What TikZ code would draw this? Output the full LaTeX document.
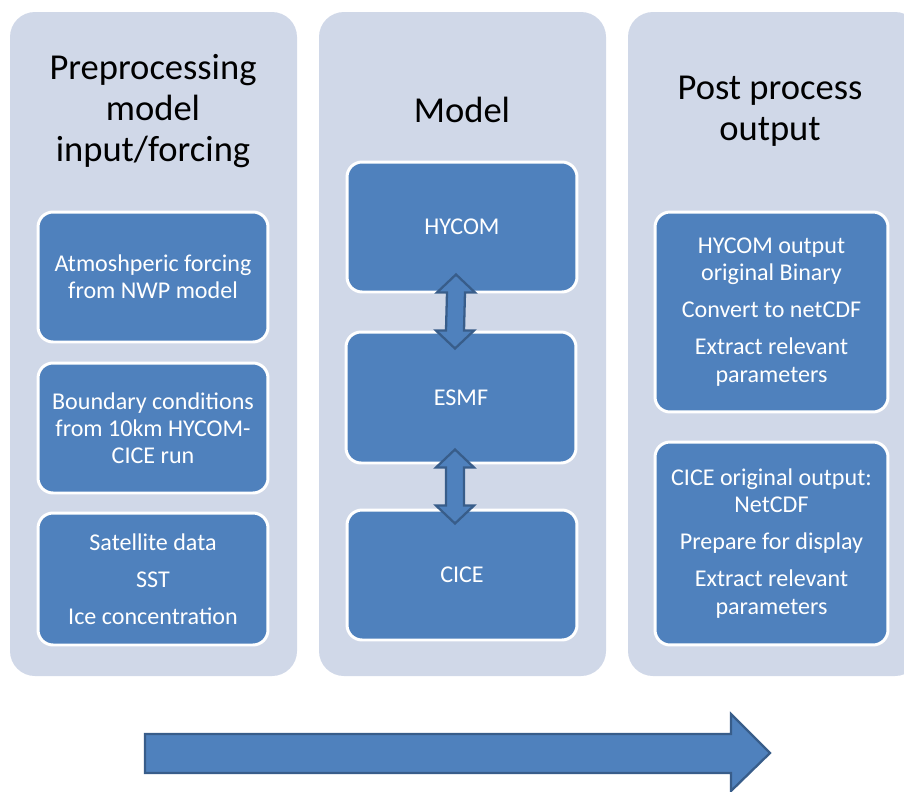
\documentclass[tikz,border=0pt]{standalone}
\usepackage{fontspec}
\setmainfont{Carlito}
\usetikzlibrary{calc}
\definecolor{panelbg}{HTML}{D0D8E8}
\definecolor{boxblue}{HTML}{4F81BD}
\definecolor{arrowedge}{HTML}{385D8A}
\newcommand\bxfont{\fontsize{13.7pt}{15.4pt}\selectfont}
\newcommand\ttlfont{\fontsize{20.8pt}{23.3pt}\selectfont}
\begin{document}
\begin{tikzpicture}[x=0.02cm,y=-0.02cm,
  panel/.style={fill=panelbg, rounded corners=0.5cm},
  box/.style={fill=boxblue, draw=white, line width=1.7pt, rounded corners=0.3cm,
    text=white, align=center, font=\bxfont, inner sep=0pt, minimum width=4.6cm},
  ttl/.style={align=center, font=\ttlfont, text=black},
  bigarrow/.style={fill=boxblue, draw=arrowedge, line width=1.3pt, line join=miter}]
\clip (0,0) rectangle (904,792);
\fill[white] (0,0) rectangle (904,792);
% panels
\fill[panel] (10,12) rectangle (297,676);
\fill[panel] (319,12) rectangle (606,676);
\fill[panel] (628,12) rectangle (920,676);
% titles
\node[ttl] (t1) at (153,111) {Preprocessing\\model\\input/forcing};
\node[ttl] (t2) at (462,110) {Model};
\node[ttl] (t3) at (770,111) {Post process\\output};
% left column
\node[box, minimum height=2.6cm] (l1) at (153,277) {Atmoshperic forcing\\from NWP model};
\node[box, minimum height=2.6cm] (l2) at (153,428) {Boundary conditions\\from 10km HYCOM-\\CICE run};
\node[box, minimum height=2.64cm] (l3) at (153,579) {Satellite data\\[5.7pt]SST\\[5.7pt]Ice concentration};
% middle column
\node[box, minimum height=2.6cm] (hycom) at (462,227) {HYCOM};
\node[box, minimum height=2.62cm] (esmf) at (461,397.5) {ESMF};
\node[box, minimum height=2.6cm] (cice) at (462,575) {CICE};
% right column
\node[box, minimum width=4.66cm, minimum height=4cm] (r1) at (771.5,312) {HYCOM output\\original Binary\\[5.7pt]Convert to netCDF\\[5.7pt]Extract relevant\\parameters};
\node[box, minimum width=4.66cm, minimum height=4.06cm] (r2) at (771.5,543.5) {CICE original output:\\NetCDF\\[5.7pt]Prepare for display\\[5.7pt]Extract relevant\\parameters};
% double arrows
\coordinate (a1t) at ($(hycom.south)+(-6,-19)$);
\coordinate (a1b) at ($(esmf.north)+(-6,18)$);
\coordinate (a2t) at ($(esmf.south)+(-6,-15)$);
\coordinate (a2b) at ($(cice.north)+(-7,15)$);
\foreach \t/\b in {a1t/a1b, a2t/a2b}{
  \draw[bigarrow] (\t) -- ($(\t)+(19,18)$) -- ($(\t)+(9,18)$) -- ($(\b)+(9,-18)$) -- ($(\b)+(19,-18)$)
    -- (\b) -- ($(\b)+(-19,-18)$) -- ($(\b)+(-9,-18)$) -- ($(\t)+(-9,18)$) -- ($(\t)+(-19,18)$) -- cycle;
}
% process arrow
\draw[bigarrow] (145,734) -- (731,734) -- (731,714) -- (770,753) -- (731,791) -- (731,773) -- (145,773) -- cycle;
\end{tikzpicture}
\end{document}
